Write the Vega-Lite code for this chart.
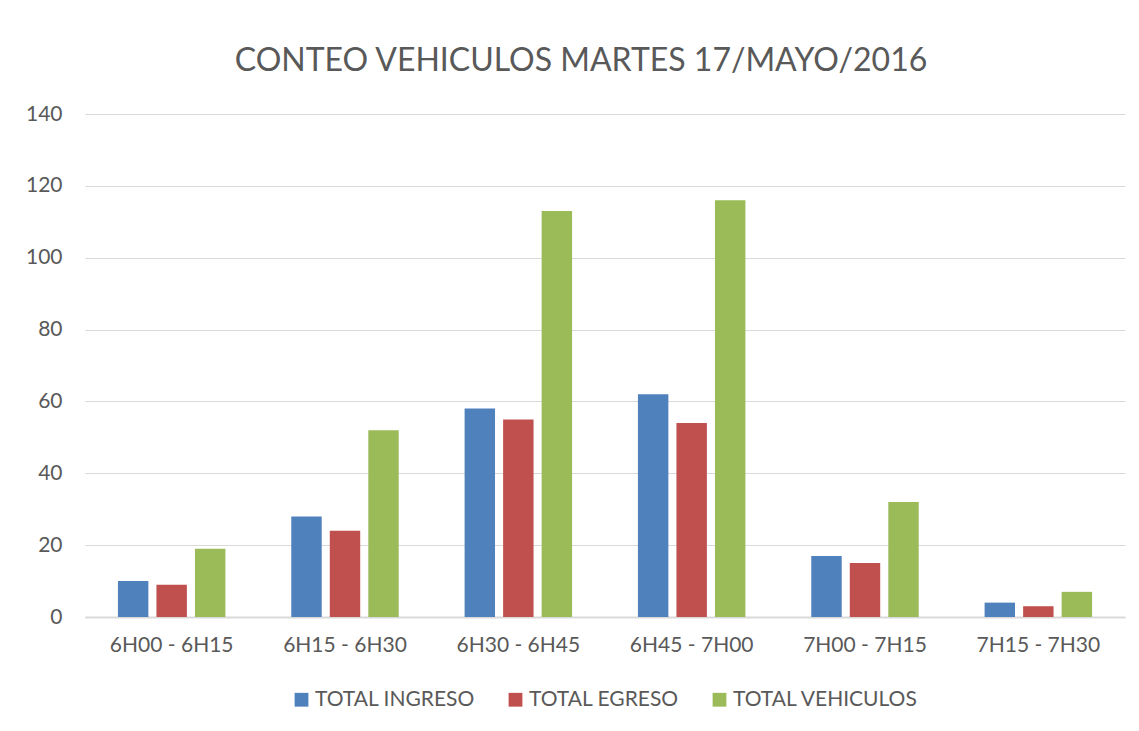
{
  "$schema": "https://vega.github.io/schema/vega-lite/v6.json",
  "width": 1040,
  "height": 503,
  "autosize": {"type": "none"},
  "padding": {"left": 85, "top": 114, "right": 14, "bottom": 114},
  "background": "white",
  "title": {
    "text": "CONTEO VEHICULOS MARTES 17/MAYO/2016",
    "font": "Lato",
    "fontSize": 32,
    "fontWeight": "normal",
    "color": "#595959",
    "anchor": "middle",
    "baseline": "alphabetic",
    "offset": 0,
    "dx": -24
  },
  "data": {
    "values": [
      {"intervalo": "6H00 - 6H15", "serie": "TOTAL INGRESO", "valor": 10},
      {"intervalo": "6H00 - 6H15", "serie": "TOTAL EGRESO", "valor": 9},
      {"intervalo": "6H00 - 6H15", "serie": "TOTAL VEHICULOS", "valor": 19},
      {"intervalo": "6H15 - 6H30", "serie": "TOTAL INGRESO", "valor": 28},
      {"intervalo": "6H15 - 6H30", "serie": "TOTAL EGRESO", "valor": 24},
      {"intervalo": "6H15 - 6H30", "serie": "TOTAL VEHICULOS", "valor": 52},
      {"intervalo": "6H30 - 6H45", "serie": "TOTAL INGRESO", "valor": 58},
      {"intervalo": "6H30 - 6H45", "serie": "TOTAL EGRESO", "valor": 55},
      {"intervalo": "6H30 - 6H45", "serie": "TOTAL VEHICULOS", "valor": 113},
      {"intervalo": "6H45 - 7H00", "serie": "TOTAL INGRESO", "valor": 62},
      {"intervalo": "6H45 - 7H00", "serie": "TOTAL EGRESO", "valor": 54},
      {"intervalo": "6H45 - 7H00", "serie": "TOTAL VEHICULOS", "valor": 116},
      {"intervalo": "7H00 - 7H15", "serie": "TOTAL INGRESO", "valor": 17},
      {"intervalo": "7H00 - 7H15", "serie": "TOTAL EGRESO", "valor": 15},
      {"intervalo": "7H00 - 7H15", "serie": "TOTAL VEHICULOS", "valor": 32},
      {"intervalo": "7H15 - 7H30", "serie": "TOTAL INGRESO", "valor": 4},
      {"intervalo": "7H15 - 7H30", "serie": "TOTAL EGRESO", "valor": 3},
      {"intervalo": "7H15 - 7H30", "serie": "TOTAL VEHICULOS", "valor": 7}
    ]
  },
  "mark": {"type": "bar"},
  "encoding": {
    "x": {
      "field": "intervalo",
      "type": "nominal",
      "sort": null,
      "scale": {"paddingInner": 0.38, "paddingOuter": 0.19},
      "axis": {
        "title": null,
        "labelAngle": 0,
        "labelFont": "Lato",
        "labelFontSize": 21,
        "labelColor": "#595959",
        "labelPadding": 17,
        "ticks": false,
        "domainColor": "#D9D9D9",
        "domainWidth": 2,
        "grid": false
      }
    },
    "xOffset": {
      "field": "serie",
      "type": "nominal",
      "sort": ["TOTAL INGRESO", "TOTAL EGRESO", "TOTAL VEHICULOS"],
      "scale": {"paddingInner": 0.21, "paddingOuter": 0}
    },
    "y": {
      "field": "valor",
      "type": "quantitative",
      "scale": {"domain": [0, 140]},
      "axis": {
        "title": null,
        "values": [0, 20, 40, 60, 80, 100, 120, 140],
        "labelFont": "Lato",
        "labelFontSize": 21,
        "labelColor": "#595959",
        "labelPadding": 23,
        "ticks": false,
        "domain": false,
        "gridColor": "#D9D9D9",
        "gridWidth": 1
      }
    },
    "color": {
      "field": "serie",
      "type": "nominal",
      "sort": ["TOTAL INGRESO", "TOTAL EGRESO", "TOTAL VEHICULOS"],
      "scale": {
        "domain": ["TOTAL INGRESO", "TOTAL EGRESO", "TOTAL VEHICULOS"],
        "range": ["#4F81BD", "#C0504D", "#9BBB59"]
      },
      "legend": {
        "title": null,
        "orient": "bottom",
        "direction": "horizontal",
        "symbolType": "square",
        "symbolSize": 190,
        "symbolStrokeWidth": 0,
        "labelFont": "Lato",
        "labelFontSize": 21,
        "labelColor": "#595959",
        "labelOffset": 3,
        "labelLimit": 400,
        "columnPadding": 30,
        "offset": 34
      }
    }
  },
  "config": {
    "view": {"stroke": null},
    "legend": {"layout": {"bottom": {"anchor": "middle"}}}
  }
}
